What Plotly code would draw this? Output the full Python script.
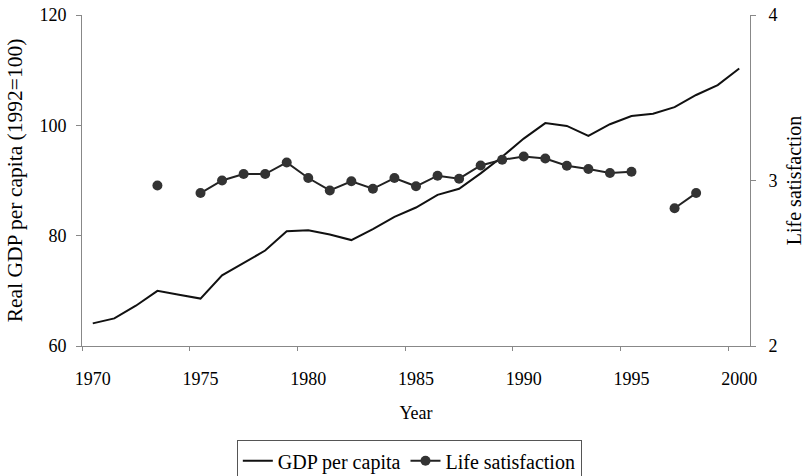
import plotly.graph_objects as go

years = list(range(1970, 2001))
gdp = [64.1, 65.0, 67.3, 70.0, 69.3, 68.6, 72.8, 75.0, 77.3, 80.8,
       81.0, 80.2, 79.2, 81.2, 83.4, 85.1, 87.4, 88.5, 91.3, 94.3,
       97.6, 100.4, 99.9, 98.1, 100.2, 101.7, 102.1, 103.3, 105.5, 107.3,
       110.3]
life = [None, None, None, 2.97, None, 2.924, 3.0, 3.039, 3.039, 3.109,
        3.015, 2.94, 2.995, 2.95, 3.015, 2.965, 3.029, 3.011, 3.091, 3.125,
        3.145, 3.133, 3.089, 3.069, 3.045, 3.053, None, 2.832, 2.924, None,
        None]
tick_years = [1970, 1975, 1980, 1985, 1990, 1995, 2000]
tick_labels = [str(y) for y in tick_years]

FONT = "Liberation Serif"
TICKF = dict(family=FONT, size=18, color="#000000")

fig = go.Figure()
fig.add_trace(go.Scatter(x=years, y=gdp, mode="lines", name="GDP per capita",
                         line=dict(color="#111111", width=2)))
fig.add_trace(go.Scatter(x=years, y=life, mode="lines+markers", name="Life satisfaction",
                         yaxis="y2", connectgaps=False,
                         line=dict(color="#222222", width=2),
                         marker=dict(color="#333333", size=10)))

fig.update_layout(
    width=806, height=476,
    margin=dict(l=82, r=56, t=15, b=130, autoexpand=False),
    paper_bgcolor="white", plot_bgcolor="white",
    font=dict(family=FONT, size=18, color="#000000"),
    showlegend=True,
    legend=dict(orientation="h", xanchor="center", x=0.49, yanchor="top", y=-0.285,
                bordercolor="#555555", borderwidth=1,
                font=dict(family=FONT, size=20, color="#000000"),
                itemwidth=30, tracegroupgap=0),
    xaxis=dict(range=[1969.5, 2000.5], tickmode="array", tickvals=tick_years,
               ticktext=tick_labels, ticks="", showgrid=False, zeroline=False,
               showline=True, linecolor="#888888", linewidth=1, tickfont=TICKF,
               automargin=False, ticklabelstandoff=16,
               minor=dict(tick0=1969.5, dtick=5, ticks="outside", ticklen=4,
                          tickcolor="#888888", showgrid=False),
               title=dict(text="Year", standoff=18,
                          font=dict(family=FONT, size=18, color="#000000"))),
    yaxis=dict(range=[60, 120], tickvals=[60, 80, 100, 120], ticks="outside", ticklen=5,
               tickcolor="#888888", showgrid=False, zeroline=False, showline=True,
               linecolor="#888888", linewidth=1, tickfont=TICKF, automargin=False,
               ticklabelstandoff=6,
               title=dict(text="Real GDP per capita (1992=100)", standoff=10,
                          font=dict(family=FONT, size=21.5, color="#000000"))),
    yaxis2=dict(range=[2, 4], tickvals=[2, 3, 4], overlaying="y", side="right",
                ticks="outside", ticklen=5, tickcolor="#888888", showgrid=False,
                zeroline=False, showline=True, linecolor="#888888", linewidth=1,
                tickfont=TICKF, automargin=False, ticklabelstandoff=9,
                title=dict(text="Life satisfaction", standoff=10,
                           font=dict(family=FONT, size=20, color="#000000"))),
)

fig.write_html("out.html", config={"displayModeBar": False},
               post_script="document.body.style.margin='0';")
